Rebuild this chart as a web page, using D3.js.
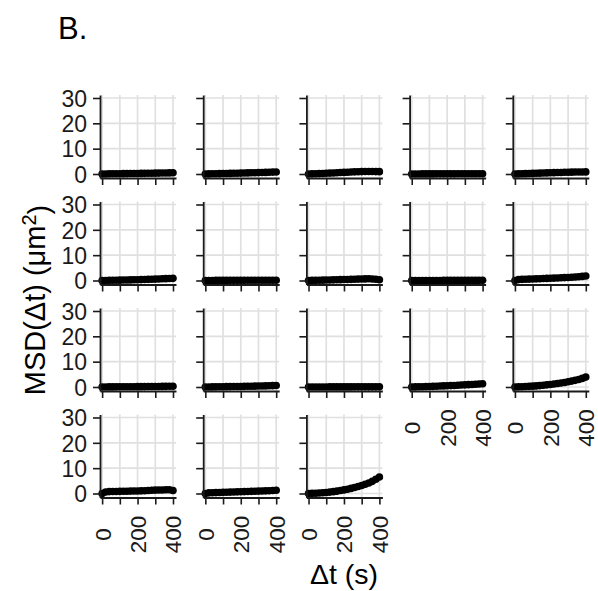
<!DOCTYPE html>
<html>
<head>
<meta charset="utf-8">
<script src="https://cdn.jsdelivr.net/npm/d3@7"></script>
<style>
  html, body { margin: 0; padding: 0; background: #fff; }
  svg { display: block; font-family: "Liberation Sans", Arial, sans-serif; }
</style>
</head>
<body>
<div id="chart"></div>
<script>
// lag times (s) and axis ticks
var lagTimes = [0, 20, 40, 60, 80, 100, 120, 140, 160, 180, 200, 220, 240, 260, 280, 300, 320, 340, 360, 380, 400];
var xTicks = [0, 100, 200, 300, 400];
var xTickLabels = [0, 200, 400];
var yTicks = [0, 10, 20, 30];

// MSD per track (um^2)
var track01 = [0, 0.02, 0.05, 0.07, 0.09, 0.11, 0.13, 0.15, 0.17, 0.19, 0.21, 0.23, 0.26, 0.28, 0.3, 0.33, 0.35, 0.38, 0.41, 0.44, 0.47];
var track02 = [0, 0.03, 0.07, 0.1, 0.14, 0.17, 0.21, 0.24, 0.28, 0.31, 0.35, 0.39, 0.43, 0.47, 0.51, 0.55, 0.59, 0.64, 0.69, 0.74, 0.8];
var track03 = [0, 0.05, 0.1, 0.16, 0.22, 0.28, 0.35, 0.42, 0.5, 0.57, 0.64, 0.71, 0.78, 0.84, 0.9, 0.95, 0.98, 1.0, 0.98, 0.95, 0.92];
var track04 = [0, 0.01, 0.02, 0.03, 0.03, 0.04, 0.04, 0.05, 0.05, 0.05, 0.06, 0.06, 0.06, 0.07, 0.07, 0.07, 0.08, 0.08, 0.08, 0.09, 0.09];
var track05 = [0, 0.04, 0.09, 0.14, 0.19, 0.24, 0.29, 0.34, 0.39, 0.44, 0.49, 0.54, 0.58, 0.62, 0.66, 0.7, 0.73, 0.76, 0.78, 0.8, 0.82];
var track06 = [0, 0.02, 0.05, 0.08, 0.11, 0.14, 0.17, 0.2, 0.24, 0.28, 0.32, 0.36, 0.4, 0.45, 0.5, 0.55, 0.6, 0.66, 0.72, 0.78, 0.84];
var track07 = [0, 0.01, 0.02, 0.03, 0.03, 0.04, 0.04, 0.05, 0.05, 0.06, 0.06, 0.06, 0.07, 0.07, 0.07, 0.08, 0.08, 0.08, 0.09, 0.09, 0.1];
var track08 = [0, 0.03, 0.06, 0.1, 0.13, 0.17, 0.21, 0.25, 0.29, 0.33, 0.37, 0.41, 0.46, 0.5, 0.55, 0.6, 0.64, 0.66, 0.62, 0.5, 0.3];
var track09 = [0, 0, 0.01, 0.01, 0.01, 0.02, 0.02, 0.02, 0.02, 0.03, 0.03, 0.03, 0.03, 0.03, 0.04, 0.04, 0.04, 0.04, 0.04, 0.05, 0.05];
var track10 = [0, 0.35, 0.45, 0.5, 0.55, 0.6, 0.65, 0.7, 0.76, 0.82, 0.88, 0.94, 1.0, 1.07, 1.14, 1.21, 1.3, 1.4, 1.5, 1.62, 1.75];
var track11 = [0, 0.01, 0.03, 0.04, 0.05, 0.07, 0.08, 0.09, 0.1, 0.12, 0.13, 0.14, 0.16, 0.17, 0.19, 0.2, 0.22, 0.24, 0.26, 0.28, 0.3];
var track12 = [0, 0.02, 0.04, 0.06, 0.08, 0.1, 0.13, 0.15, 0.17, 0.2, 0.22, 0.25, 0.28, 0.31, 0.34, 0.37, 0.4, 0.44, 0.48, 0.53, 0.58];
var track13 = [0, 0.01, 0.01, 0.02, 0.02, 0.02, 0.03, 0.03, 0.03, 0.04, 0.04, 0.04, 0.04, 0.05, 0.05, 0.05, 0.05, 0.06, 0.06, 0.06, 0.06];
var track14 = [0, 0.03, 0.07, 0.11, 0.16, 0.21, 0.26, 0.31, 0.37, 0.43, 0.49, 0.55, 0.62, 0.69, 0.76, 0.84, 0.92, 1.0, 1.08, 1.17, 1.26];
var track15 = [0, 0.05, 0.1, 0.17, 0.25, 0.34, 0.44, 0.56, 0.69, 0.84, 1.0, 1.17, 1.36, 1.57, 1.8, 2.05, 2.33, 2.63, 2.97, 3.4, 3.9];
var track16 = [0, 0.6, 0.75, 0.8, 0.8, 0.85, 0.9, 0.9, 0.95, 1.0, 1.0, 1.05, 1.1, 1.2, 1.3, 1.35, 1.4, 1.4, 1.5, 1.45, 1.2];
var track17 = [0, 0.25, 0.3, 0.35, 0.4, 0.45, 0.5, 0.55, 0.6, 0.65, 0.7, 0.75, 0.8, 0.85, 0.9, 0.95, 1.0, 1.05, 1.1, 1.2, 1.3];
var track18 = [0, 0.05, 0.11, 0.19, 0.29, 0.41, 0.56, 0.73, 0.93, 1.16, 1.42, 1.7, 2.02, 2.37, 2.75, 3.17, 3.63, 4.13, 4.8, 5.6, 6.5];

var tracks = [track01, track02, track03, track04, track05, track06, track07, track08, track09,
              track10, track11, track12, track13, track14, track15, track16, track17, track18];

(function(d3) {
    'use strict';

    var width = 598,
        height = 591,
        nCols = 5,
        left = 100,
        top = 95,
        colStep = 103.2,
        rowStep = 106.5,
        panelW = 76,
        panelH = 83;

    var svg = d3.select('#chart').append('svg')
        .attr('width', width)
        .attr('height', height);

    var x = d3.scaleLinear().domain([-12, 417]).range([0, panelW]);
    var y = d3.scaleLinear().domain([-1.58, 31.18]).range([panelH, 0]);

    /* + panels */

    tracks.forEach(function(vals, i) {
        var row = Math.floor(i / nCols),
            col = i % nCols,
            hasBelow = i + nCols < tracks.length;

        var g = svg.append('g')
            .attr('transform', 'translate(' + (left + col * colStep) + ',' + (top + row * rowStep) + ')');

        // grid
        g.selectAll('.gx').data(xTicks).enter().append('line')
            .attr('x1', x).attr('x2', x)
            .attr('y1', 0).attr('y2', panelH)
            .attr('stroke', '#e0e0e0').attr('stroke-width', 1.7);
        g.selectAll('.gy').data(yTicks).enter().append('line')
            .attr('y1', y).attr('y2', y)
            .attr('x1', 0).attr('x2', panelW)
            .attr('stroke', '#e0e0e0').attr('stroke-width', 1.7);

        // points
        g.selectAll('circle').data(vals).enter().append('circle')
            .attr('cx', function(d, j) { return x(lagTimes[j]); })
            .attr('cy', function(d) { return y(d); })
            .attr('r', 3.8)
            .attr('fill', '#000');

        // axes
        var ax = g.append('g').attr('transform', 'translate(0,' + panelH + ')')
            .call(d3.axisBottom(x).tickValues(xTicks).tickSize(7).tickSizeOuter(0)
                .tickFormat(function(d) { return (!hasBelow && xTickLabels.indexOf(d) >= 0) ? d : ''; }));
        var ay = g.append('g')
            .call(d3.axisLeft(y).tickValues(yTicks).tickSize(7).tickSizeOuter(0)
                .tickFormat(function(d) { return col === 0 ? d : ''; }));

        [ax, ay].forEach(function(a) {
            a.select('.domain').attr('stroke', '#1a1a1a').attr('stroke-width', 1.8);
            a.selectAll('.tick line').attr('stroke', '#1a1a1a').attr('stroke-width', 1.6);
            a.selectAll('text').attr('fill', '#1a1a1a').style('font-size', '23px')
                .style('font-family', '"Liberation Sans", Arial, sans-serif');
        });

        ay.selectAll('text').attr('x', -13).attr('dy', '0.36em');
        ax.selectAll('text')
            .style('font-size', '22.5px')
            .attr('text-anchor', 'middle')
            .attr('transform', 'translate(0,37) rotate(-90)')
            .attr('x', 0).attr('y', 0).attr('dy', '0.35em');
    });

    /* = panels */

    /* + titles */

    svg.append('text')
        .attr('x', 58).attr('y', 39)
        .style('font-size', '31px')
        .text('B.');

    svg.append('text')
        .attr('x', 344).attr('y', 584)
        .attr('text-anchor', 'middle')
        .style('font-size', '28.5px')
        .text('\u0394t (s)');

    var yt = svg.append('text')
        .attr('transform', 'translate(45,300) rotate(-90)')
        .attr('text-anchor', 'middle')
        .style('font-size', '29px');
    yt.append('tspan').text('MSD(\u0394t) (\u03bcm');
    yt.append('tspan').attr('dy', '-0.45em').style('font-size', '20px').text('2');
    yt.append('tspan').attr('dy', '0.45em').text(')');

    /* = titles */

})(d3);
</script>
</body>
</html>
